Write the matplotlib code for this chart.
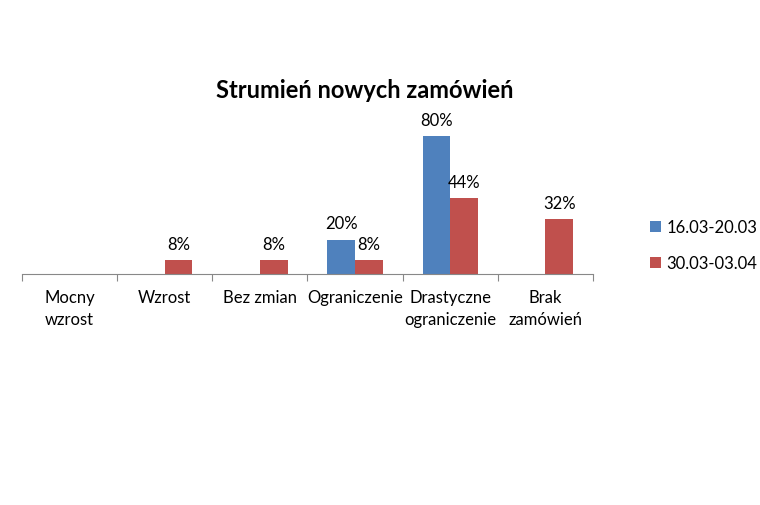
import numpy as np
import matplotlib.pyplot as plt

categories = ["Mocny\nwzrost", "Wzrost", "Bez zmian", "Ograniczenie",
              "Drastyczne\nograniczenie", "Brak\nzamówień"]
series_names = ["16.03-20.03", "30.03-03.04"]
values_1 = [0, 0, 0, 20, 80, 0]
values_2 = [0, 8, 8, 8, 44, 32]
colors = ["#4F81BD", "#C0504D"]

plt.rcParams['font.family'] = ['Lato', 'DejaVu Sans']

fig = plt.figure(figsize=(7.6, 5.06), dpi=100)
ax = fig.add_axes([22 / 760, 1 - 275 / 506, 571 / 760, 155 / 506])

x = np.arange(len(categories))
w = 0.29
b1 = ax.bar(x - w / 2, values_1, w, color=colors[0], label=series_names[0])
b2 = ax.bar(x + w / 2, values_2, w, color=colors[1], label=series_names[1])

for bars, vals in ((b1, values_1), (b2, values_2)):
    for rect, v in zip(bars, vals):
        if v > 0:
            ax.annotate(f"{v}%", (rect.get_x() + rect.get_width() / 2, v),
                        xytext=(0, 6), textcoords="offset points",
                        ha="center", va="bottom", fontsize=12)

ax.set_xlim(-0.5, len(categories) - 0.5)
ax.set_ylim(0, 90)
for s in ("top", "right", "left"):
    ax.spines[s].set_visible(False)
ax.spines["bottom"].set_color("#888888")
ax.set_yticks([])
ax.set_xticks(np.arange(len(categories) + 1) - 0.5)
ax.set_xticklabels([])
ax.set_xticks(x, minor=True)
ax.set_xticklabels(categories, minor=True, fontsize=12, linespacing=1.45)
ax.tick_params(axis="x", which="major", direction="out", length=5, color="#888888")
ax.tick_params(axis="x", which="minor", length=0, pad=11)

fig.text(365 / 760, 1 - 90 / 506, "Strumień nowych zamówień", ha="center",
         va="center", fontsize=17, fontweight="bold")

fig.legend(loc="center left", bbox_to_anchor=(650 / 760, 1 - 246 / 506),
           frameon=False, fontsize=12, handlelength=0.65, handleheight=0.65,
           handletextpad=0.35, labelspacing=1.2, borderpad=0, borderaxespad=0)

fig.savefig("out.png", dpi=100, facecolor="white")
